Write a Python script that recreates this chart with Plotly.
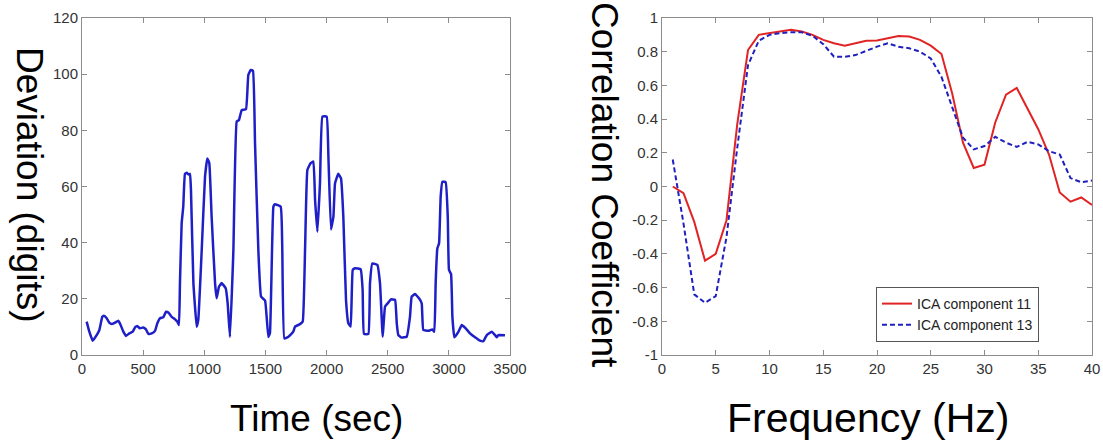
import plotly.graph_objects as go

# ---- Left panel data: deviation vs time ----
time_sec = [38, 60, 87, 120, 142, 166, 180, 202, 223, 243, 270, 297, 316, 338, 360, 387, 415, 433,
            452, 474, 501, 523, 543, 570, 597, 616, 638, 665, 687, 706, 733, 761, 779, 793, 801,
            815, 828, 842, 856, 870, 883, 891, 911, 938, 951, 979, 1006, 1025, 1041, 1060, 1088,
            1101, 1120, 1142, 1175, 1191, 1210, 1238, 1265, 1284, 1306, 1341, 1360, 1380, 1398,
            1415, 1442, 1464, 1497, 1510, 1524, 1537, 1565, 1578, 1625, 1638, 1655, 1688, 1728,
            1742, 1783, 1805, 1824, 1843, 1870, 1892, 1906, 1925, 1946, 1966, 2001, 2015, 2036,
            2056, 2069, 2096, 2118, 2137, 2159, 2178, 2197, 2214, 2233, 2279, 2295, 2306, 2342,
            2355, 2374, 2415, 2437, 2459, 2478, 2500, 2527, 2560, 2574, 2587, 2614, 2655, 2682,
            2696, 2723, 2756, 2778, 2791, 2832, 2865, 2881, 2892, 2906, 2920, 2933, 2947, 2974,
            2991, 3001, 3018, 3029, 3045, 3078, 3105, 3138, 3173, 3214, 3255, 3282, 3310, 3350,
            3378, 3391, 3405, 3459]
deviation = [11.9, 8.3, 5.1, 7.1, 8.9, 13.6, 14.0, 13.1, 11.5, 11.0, 11.5, 12.2, 10.7, 8.3, 6.8,
             7.7, 8.3, 9.8, 10.3, 9.5, 9.8, 9.1, 7.5, 7.7, 8.6, 11.3, 13.1, 13.4, 15.4, 15.1, 13.6,
             12.7, 11.9, 10.7, 25.5, 46.9, 52.8, 64.5, 64.9, 64.3, 64.5, 58.8, 25.6, 10.1, 12.5,
             37.4, 63.5, 70.0, 68.3, 49.3, 25.6, 20.2, 24.3, 25.6, 23.8, 18.5, 6.4, 37.4, 83.1,
             83.7, 87.2, 87.5, 99.7, 101.5, 101.2, 75.4, 37.4, 20.8, 19.4, 13.6, 6.4, 7.8, 52.8,
             53.7, 52.8, 37.4, 5.9, 6.5, 8.3, 10.1, 11.0, 11.9, 37.4, 65.9, 68.3, 68.9, 55.2,
             43.9, 61.1, 84.9, 84.9, 70.6, 44.7, 49.3, 61.1, 64.5, 62.9, 49.3, 19.6, 11.3, 10.1,
             30.3, 30.9, 30.5, 23.1, 7.5, 7.5, 25.5, 32.6, 32.1, 25.5, 6.5, 17.2, 18.4, 19.8,
             19.6, 11.3, 7.1, 6.2, 6.5, 13.6, 20.8, 21.7, 20.2, 18.4, 8.9, 8.6, 9.1, 8.3, 25.5,
             38.0, 39.8, 56.4, 61.7, 61.5, 49.3, 30.3, 28.8, 13.6, 6.3, 8.2, 10.7, 9.5, 7.7, 6.3,
             5.1, 4.9, 7.1, 8.3, 7.1, 6.3, 7.1, 7.0]

# ---- Right panel data: correlation vs frequency ----
freq_hz = list(range(1, 41))
ica_comp_11 = [0.0, -0.04, -0.21, -0.44, -0.40, -0.20, 0.37, 0.81, 0.90, 0.91,
               0.92, 0.93, 0.92, 0.90, 0.87, 0.85, 0.835, 0.85, 0.865, 0.867,
               0.88, 0.893, 0.89, 0.87, 0.836, 0.786, 0.55, 0.26, 0.11, 0.13,
               0.38, 0.545, 0.585, 0.46, 0.34, 0.19, -0.035, -0.09, -0.065, -0.11]
ica_comp_13 = [0.16, -0.22, -0.64, -0.69, -0.65, -0.30, 0.23, 0.72, 0.865, 0.90,
               0.91, 0.915, 0.915, 0.895, 0.845, 0.77, 0.77, 0.78, 0.805, 0.83,
               0.85, 0.83, 0.82, 0.80, 0.76, 0.65, 0.47, 0.29, 0.22, 0.24,
               0.295, 0.26, 0.235, 0.265, 0.25, 0.21, 0.19, 0.05, 0.025, 0.035]

left_xticks = [0, 500, 1000, 1500, 2000, 2500, 3000, 3500]
left_xtext = ["0", "500", "1000", "1500", "2000", "2500", "3000", "3500"]
left_yticks = [0, 20, 40, 60, 80, 100, 120]
left_ytext = ["0", "20", "40", "60", "80", "100", "120"]
right_xticks = [0, 5, 10, 15, 20, 25, 30, 35, 40]
right_xtext = ["0", "5", "10", "15", "20", "25", "30", "35", "40"]
right_yticks = [-1, -0.8, -0.6, -0.4, -0.2, 0, 0.2, 0.4, 0.6, 0.8, 1]
right_ytext = ["-1", "-0.8", "-0.6", "-0.4", "-0.2", "0", "0.2", "0.4", "0.6", "0.8", "1"]

W, H = 1103, 444
FONT = "Liberation Sans, Arial, Helvetica, sans-serif"

fig = go.Figure()
fig.add_trace(go.Scatter(x=time_sec, y=deviation, mode="lines", xaxis="x", yaxis="y",
                         line=dict(color="#1f1fc8", width=2.5, shape="spline", smoothing=0.3),
                         showlegend=False))
fig.add_trace(go.Scatter(x=freq_hz, y=ica_comp_11, mode="lines", xaxis="x2", yaxis="y2",
                         name="ICA component 11", line=dict(color="#e02424", width=2)))
fig.add_trace(go.Scatter(x=freq_hz, y=ica_comp_13, mode="lines", xaxis="x2", yaxis="y2",
                         name="ICA component 13", line=dict(color="#2020c0", width=2, dash="5px,3px")))

ydom = [1 - 355 / H, 1 - 18 / H]
axis_common = dict(showline=True, linecolor="#8c8c8c", linewidth=1, mirror="allticks",
                   ticks="inside", ticklen=5, tickcolor="#8c8c8c", showgrid=False, zeroline=False,
                   automargin=False,
                   tickfont=dict(family=FONT, size=15, color="#333333"))

fig.update_layout(
    width=W, height=H,
    margin=dict(l=0, r=0, t=0, b=0),
    paper_bgcolor="white", plot_bgcolor="white",
    font=dict(family=FONT),
    xaxis=dict(domain=[82 / W, 510 / W], range=[0, 3500], tickvals=left_xticks, ticktext=left_xtext,
               anchor="y", **axis_common),
    yaxis=dict(domain=ydom, range=[0, 120], tickvals=left_yticks, ticktext=left_ytext,
               anchor="x", **axis_common),
    xaxis2=dict(domain=[662 / W, 1092 / W], range=[0, 40], tickvals=right_xticks, ticktext=right_xtext,
                anchor="y2", **axis_common),
    yaxis2=dict(domain=ydom, range=[-1, 1], tickvals=right_yticks, ticktext=right_ytext,
                anchor="x2", **axis_common),
    legend=dict(x=876 / W, xanchor="left", y=1 - 287 / H, yanchor="top",
                bgcolor="white", bordercolor="#555555", borderwidth=1,
                font=dict(family=FONT, size=14, color="#222222"),
                tracegroupgap=0, itemwidth=30),
    annotations=[
        dict(text="Time (sec)", x=316 / W, y=1 - 418 / H, xref="paper", yref="paper",
             xanchor="center", yanchor="middle",
             showarrow=False, font=dict(family=FONT, size=37, color="black")),
        dict(text="Frequency (Hz)", x=868 / W, y=1 - 418 / H, xref="paper", yref="paper",
             xanchor="center", yanchor="middle",
             showarrow=False, font=dict(family=FONT, size=41, color="black")),
        dict(text="Deviation (digits)", x=30 / W, y=1 - 185 / H, xref="paper", yref="paper",
             xanchor="center", yanchor="middle",
             showarrow=False, textangle=90, font=dict(family=FONT, size=37, color="black")),
        dict(text="Correlation Coefficient", x=605 / W, y=1 - 185 / H, xref="paper", yref="paper",
             xanchor="center", yanchor="middle",
             showarrow=False, textangle=90, font=dict(family=FONT, size=37, color="black")),
    ],
)

fig.write_html("out.html")
